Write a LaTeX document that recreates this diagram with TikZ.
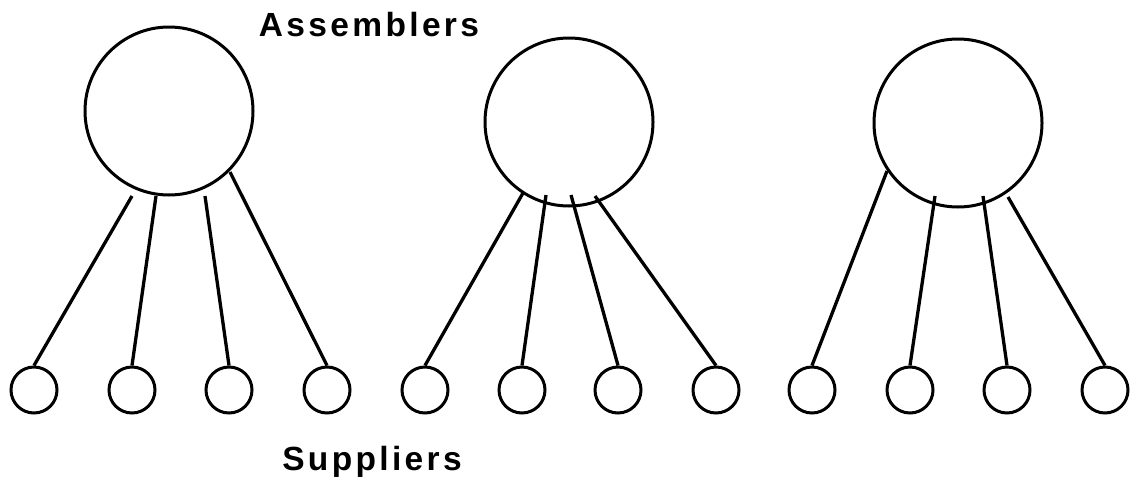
\documentclass[tikz,border=0pt]{standalone}
\usepackage{fontspec}
\setmainfont{Liberation Sans}
\newfontfamily\labelfont{Liberation Sans}[LetterSpace=10]
\begin{document}
\begin{tikzpicture}[x=1pt,y=-1pt,
  assembler/.style={circle,draw,line width=3pt,minimum size=168pt,inner sep=0pt},
  supplier/.style={circle,draw,line width=3pt,minimum size=46pt,inner sep=0pt},
  link/.style={line width=3.3pt},
  heading/.style={font=\labelfont\bfseries\fontsize{33.5}{40}\selectfont,anchor=base,inner sep=0pt}]
\useasboundingbox (0,0) rectangle (1137,482);

% assemblers
\node[assembler] (A1) at (169,111) {};
\node[assembler] (A2) at (569,122) {};
\node[assembler] (A3) at (958,123) {};

% suppliers
\foreach \i/\x in {1/34,2/132,3/229,4/327,5/425,6/522,7/618,8/716,9/812,10/910,11/1007,12/1105}
  \node[supplier] (S\i) at (\x,390) {};

% upper ends of the links, just below each assembler
\coordinate (e1) at (132,196);
\coordinate (e2) at (156,196);
\coordinate (e3) at (205,196);
\coordinate (e4) at (230,172);
\coordinate (e5) at (523,193);
\coordinate (e6) at (546,195);
\coordinate (e7) at (571,195);
\coordinate (e8) at (595,196);
\coordinate (e9) at (887,171);
\coordinate (e10) at (935,196);
\coordinate (e11) at (983,196);
\coordinate (e12) at (1008,197);

\foreach \i in {1,...,12}
  \draw[link] (S\i.north) -- (e\i);

% labels
\node[heading] (top) at (369,36) {Assemblers};
\node[heading] (bottom) at (372,470) {Suppliers};
\end{tikzpicture}
\end{document}
